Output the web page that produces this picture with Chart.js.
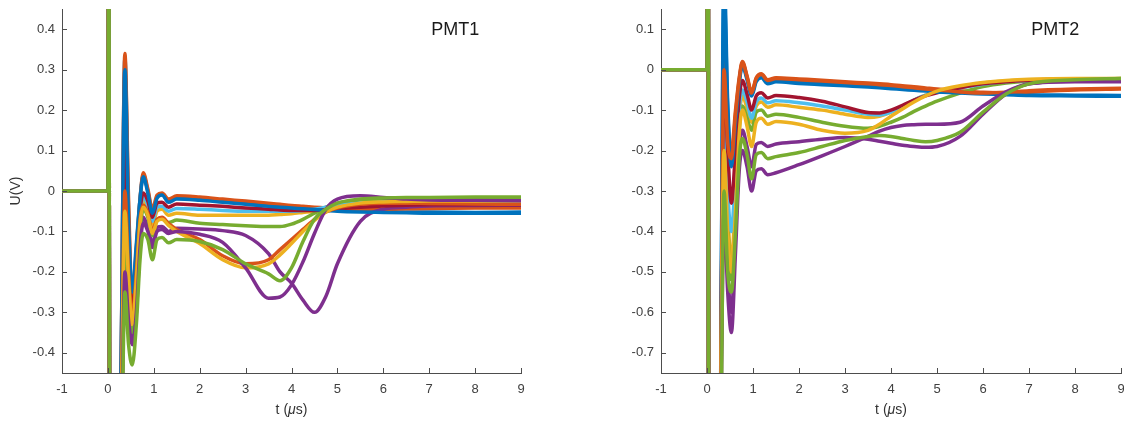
<!DOCTYPE html>
<html>
<head>
<meta charset="utf-8">
<script src="https://cdn.jsdelivr.net/npm/chart.js@4.4.0/dist/chart.umd.min.js"></script>
<style>
  html, body { margin: 0; padding: 0; background: #fff; overflow: hidden; }
  #wrap { position: relative; width: 1124px; height: 421px; overflow: hidden; }
  canvas { position: absolute; top: 0; }
</style>
</head>
<body>
<div id="wrap">
  <canvas id="pmt1" width="562" height="421" style="left:0px"></canvas>
  <canvas id="pmt2" width="572" height="421" style="left:562px"></canvas>
</div>
<script>
// time axis (microseconds), shared by every trace
const tempo = [-1, 0, 0.02, 0.04, 0.2, 0.28, 0.37, 0.45, 0.53, 0.62, 0.7, 0.77, 0.87, 0.97, 1.07, 1.18, 1.32, 1.5,
  2, 2.5, 3, 3.5, 3.75, 4, 4.25, 4.5, 4.75, 5, 5.5, 6, 6.5, 7, 8, 9];

const xTicks = [-1, 0, 1, 2, 3, 4, 5, 6, 7, 8, 9];
const yTicks1 = [-0.4, -0.3, -0.2, -0.1, 0, 0.1, 0.2, 0.3, 0.4];
const yTicks2 = [-0.7, -0.6, -0.5, -0.4, -0.3, -0.2, -0.1, 0, 0.1];

// MATLAB default colour order, 12 traces
const cores = ["#0072BD", "#D95319", "#EDB120", "#7E2F8E", "#77AC30", "#4DBEEE", "#A2142F",
  "#0072BD", "#D95319", "#EDB120", "#7E2F8E", "#77AC30"];

// PMT1 traces (V)
const p1Blue1 = [0, 0, 0.9, -0.9, -0.9, -0.5, 0.33, -0.05, -0.28, -0.15, -0.02, 0.04, 0.0, -0.05, -0.015, -0.008, -0.025, -0.017,
  -0.02, -0.025, -0.03, -0.035, -0.038, -0.04, -0.042, -0.044, -0.045, -0.047, -0.05, -0.05, -0.052, -0.052, -0.053, -0.052];
const p1Orange1 = [0, 0, 0.9, -0.9, -0.9, -0.5, 0.34, -0.02, -0.27, -0.14, -0.02, 0.045, 0.005, -0.045, -0.01, -0.005, -0.02, -0.012,
  -0.015, -0.02, -0.025, -0.03, -0.033, -0.036, -0.038, -0.04, -0.042, -0.044, -0.045, -0.045, -0.044, -0.043, -0.042, -0.042];
const p1Yellow1 = [0, 0, 0.9, -0.9, -0.9, -0.6, -0.02, -0.2, -0.3, -0.2, -0.07, -0.025, -0.045, -0.085, -0.05, -0.045, -0.06, -0.055,
  -0.06, -0.06, -0.06, -0.06, -0.058, -0.056, -0.053, -0.05, -0.045, -0.038, -0.032, -0.03, -0.028, -0.027, -0.026, -0.025];
const p1PurpleB = [0, 0, 0.9, -0.9, -0.9, -0.7, -0.15, -0.3, -0.36, -0.28, -0.13, -0.065, -0.09, -0.13, -0.09, -0.088, -0.1, -0.092,
  -0.094, -0.098, -0.11, -0.155, -0.2, -0.228, -0.27, -0.3, -0.26, -0.18, -0.075, -0.045, -0.04, -0.037, -0.036, -0.035];
const p1Green1 = [0, 0, 0.9, -0.9, -0.9, -0.7, -0.1, -0.25, -0.35, -0.25, -0.1, -0.045, -0.065, -0.11, -0.072, -0.068, -0.078, -0.072,
  -0.08, -0.083, -0.086, -0.088, -0.088, -0.082, -0.07, -0.055, -0.04, -0.03, -0.022, -0.02, -0.018, -0.018, -0.018, -0.017];
const p1LightBlue = [0, 0, 0.9, -0.9, -0.9, -0.6, 0.05, -0.18, -0.3, -0.18, -0.06, -0.015, -0.035, -0.075, -0.04, -0.038, -0.05, -0.043,
  -0.045, -0.048, -0.05, -0.05, -0.05, -0.05, -0.048, -0.045, -0.04, -0.035, -0.03, -0.028, -0.027, -0.026, -0.026, -0.026];
const p1Red = [0, 0, 0.9, -0.9, -0.9, -0.6, 0.13, -0.15, -0.3, -0.17, -0.05, -0.005, -0.025, -0.065, -0.03, -0.028, -0.04, -0.032,
  -0.035, -0.038, -0.042, -0.045, -0.047, -0.048, -0.048, -0.048, -0.046, -0.044, -0.04, -0.037, -0.035, -0.034, -0.034, -0.034];
const p1Blue2 = [0, 0, 0.9, -0.9, -0.9, -0.5, 0.3, -0.08, -0.25, -0.13, -0.02, 0.035, -0.005, -0.055, -0.018, -0.01, -0.028, -0.02,
  -0.023, -0.028, -0.033, -0.038, -0.04, -0.042, -0.044, -0.046, -0.048, -0.05, -0.052, -0.053, -0.054, -0.055, -0.055, -0.055];
const p1Orange2 = [0, 0, 0.9, -0.9, -0.9, -0.6, 0.0, -0.2, -0.31, -0.2, -0.07, -0.035, -0.055, -0.1, -0.07, -0.065, -0.08, -0.095,
  -0.12, -0.16, -0.18, -0.17, -0.145, -0.12, -0.095, -0.07, -0.052, -0.042, -0.033, -0.03, -0.03, -0.031, -0.032, -0.033];
const p1Yellow2 = [0, 0, 0.9, -0.9, -0.9, -0.65, -0.05, -0.22, -0.33, -0.22, -0.08, -0.04, -0.06, -0.105, -0.075, -0.07, -0.085, -0.1,
  -0.13, -0.17, -0.19, -0.18, -0.158, -0.13, -0.1, -0.073, -0.052, -0.04, -0.03, -0.027, -0.026, -0.025, -0.025, -0.025];
const p1PurpleA = [0, 0, 0.9, -0.9, -0.9, -0.75, -0.2, -0.32, -0.38, -0.3, -0.14, -0.08, -0.1, -0.14, -0.1, -0.095, -0.105, -0.1,
  -0.107, -0.127, -0.19, -0.265, -0.262, -0.232, -0.175, -0.105, -0.045, -0.02, -0.012, -0.016, -0.02, -0.022, -0.023, -0.024];
const p1Green2 = [0, 0, 0.9, -0.9, -0.9, -0.8, -0.25, -0.38, -0.43, -0.33, -0.17, -0.105, -0.12, -0.17, -0.12, -0.115, -0.128, -0.12,
  -0.125, -0.145, -0.18, -0.205, -0.222, -0.19, -0.125, -0.07, -0.045, -0.03, -0.02, -0.017, -0.016, -0.016, -0.015, -0.015];

// PMT2 traces (V)
const p2Blue1 = [0, 0, 1.5, -1.5, -1.5, -1.0, 0.25, -0.08, -0.22, -0.12, -0.03, 0.015, -0.02, -0.06, -0.025, -0.015, -0.03, -0.025,
  -0.03, -0.033, -0.037, -0.04, -0.042, -0.044, -0.046, -0.048, -0.05, -0.052, -0.055, -0.058, -0.06, -0.062, -0.063, -0.064];
const p2Orange1 = [0, 0, 1.5, -1.5, -1.5, -1.0, 0.05, -0.15, -0.2, -0.1, -0.02, 0.02, -0.015, -0.055, -0.02, -0.01, -0.025, -0.02,
  -0.023, -0.026, -0.03, -0.033, -0.035, -0.037, -0.04, -0.042, -0.045, -0.048, -0.052, -0.056, -0.058, -0.055, -0.05, -0.048];
const p2Yellow1 = [0, 0, 1.5, -1.5, -1.5, -1.0, -0.15, -0.35, -0.48, -0.3, -0.12, -0.065, -0.095, -0.13, -0.09, -0.08, -0.093, -0.087,
  -0.093, -0.1, -0.11, -0.118, -0.115, -0.105, -0.09, -0.075, -0.063, -0.055, -0.042, -0.033, -0.028, -0.025, -0.024, -0.024];
const p2PurpleB = [0, 0, 1.5, -1.5, -1.5, -1.0, -0.3, -0.5, -0.6, -0.4, -0.2, -0.15, -0.19, -0.24, -0.185, -0.18, -0.19, -0.184,
  -0.178, -0.172, -0.168, -0.172, -0.177, -0.182, -0.187, -0.19, -0.192, -0.19, -0.165, -0.11, -0.06, -0.035, -0.028, -0.027];
const p2Green1 = [0, 0, 1.5, -1.5, -1.5, -1.0, -0.18, -0.38, -0.52, -0.35, -0.15, -0.09, -0.12, -0.15, -0.105, -0.1, -0.115, -0.11,
  -0.118, -0.13, -0.14, -0.145, -0.14, -0.13, -0.118, -0.103, -0.09, -0.078, -0.058, -0.042, -0.033, -0.028, -0.024, -0.022];
const p2LightBlue = [0, 0, 1.5, -1.5, -1.5, -1.0, -0.08, -0.3, -0.4, -0.25, -0.1, -0.05, -0.08, -0.12, -0.08, -0.07, -0.082, -0.077,
  -0.082, -0.09, -0.1, -0.11, -0.112, -0.105, -0.09, -0.075, -0.063, -0.055, -0.045, -0.036, -0.03, -0.027, -0.025, -0.025];
const p2Red = [0, 0, 1.5, -1.5, -1.5, -1.0, -0.02, -0.2, -0.33, -0.2, -0.07, -0.027, -0.06, -0.1, -0.065, -0.057, -0.07, -0.064,
  -0.069, -0.078, -0.092, -0.106, -0.107, -0.1, -0.088, -0.075, -0.065, -0.057, -0.045, -0.035, -0.03, -0.026, -0.024, -0.025];
const p2Blue2 = [0, 0, 1.5, -1.5, -1.5, -1.0, 0.2, -0.1, -0.24, -0.13, -0.035, 0.01, -0.025, -0.065, -0.03, -0.02, -0.035, -0.03,
  -0.034, -0.037, -0.04, -0.043, -0.045, -0.047, -0.049, -0.051, -0.053, -0.055, -0.058, -0.06, -0.062, -0.064, -0.065, -0.066];
const p2Orange2 = [0, 0, 1.5, -1.5, -1.5, -1.0, 0.0, -0.18, -0.22, -0.11, -0.025, 0.018, -0.018, -0.058, -0.022, -0.012, -0.027, -0.022,
  -0.025, -0.028, -0.032, -0.035, -0.037, -0.039, -0.042, -0.045, -0.048, -0.05, -0.055, -0.058, -0.056, -0.052, -0.048, -0.046];
const p2Yellow2 = [0, 0, 1.5, -1.5, -1.5, -1.0, -0.2, -0.4, -0.5, -0.35, -0.16, -0.1, -0.14, -0.19, -0.13, -0.12, -0.135, -0.128,
  -0.135, -0.15, -0.157, -0.15, -0.135, -0.115, -0.097, -0.08, -0.065, -0.053, -0.04, -0.032, -0.027, -0.024, -0.022, -0.022];
const p2PurpleA = [0, 0, 1.5, -1.5, -1.5, -1.1, -0.35, -0.55, -0.65, -0.45, -0.25, -0.2, -0.24, -0.3, -0.25, -0.245, -0.26, -0.255,
  -0.235, -0.213, -0.19, -0.165, -0.152, -0.143, -0.138, -0.136, -0.135, -0.135, -0.13, -0.09, -0.055, -0.035, -0.03, -0.03];
const p2Green2 = [0, 0, 1.5, -1.5, -1.5, -1.2, -0.3, -0.5, -0.55, -0.4, -0.22, -0.17, -0.21, -0.27, -0.21, -0.205, -0.22, -0.215,
  -0.205, -0.19, -0.175, -0.165, -0.163, -0.165, -0.17, -0.175, -0.178, -0.175, -0.155, -0.105, -0.06, -0.035, -0.025, -0.022];

const series1 = [p1Blue1, p1Orange1, p1Yellow1, p1PurpleB, p1Green1, p1LightBlue, p1Red, p1Blue2, p1Orange2, p1Yellow2, p1PurpleA, p1Green2];
const series2 = [p2Blue1, p2Orange1, p2Yellow1, p2PurpleB, p2Green1, p2LightBlue, p2Red, p2Blue2, p2Orange2, p2Yellow2, p2PurpleA, p2Green2];

const fonte = '"Liberation Sans", Arial, Helvetica, sans-serif';
Chart.defaults.font.family = fonte;

// MATLAB style: ticks pointing inwards, titles as text
const matlabPlugin = {
  id: "matlab",
  afterDraw(chart, args, opts) {
    const ctx = chart.ctx;
    const a = chart.chartArea;
    const xs = chart.scales.x, ys = chart.scales.y;
    ctx.save();
    ctx.strokeStyle = "#4d4d4d";
    ctx.lineWidth = 1;
    ctx.beginPath();
    xs.ticks.forEach(t => {
      const px = Math.round(xs.getPixelForValue(t.value)) + 0.5;
      ctx.moveTo(px, a.bottom);
      ctx.lineTo(px, a.bottom - 5);
    });
    ys.ticks.forEach(t => {
      const py = Math.round(ys.getPixelForValue(t.value)) + 0.5;
      ctx.moveTo(a.left, py);
      ctx.lineTo(a.left + 5, py);
    });
    ctx.stroke();

    // panel title
    ctx.fillStyle = "#1a1a1a";
    ctx.font = "18px " + fonte;
    ctx.textAlign = "center";
    ctx.textBaseline = "middle";
    ctx.fillText(opts.titulo, xs.getPixelForValue(7.57), a.top + 21);

    // x label with italic mu
    ctx.fillStyle = "#333";
    const partes = [["t (", "14px "], ["\u03bc", "italic 14px "], ["s)", "14px "]];
    let total = 0;
    partes.forEach(p => { ctx.font = p[1] + fonte; total += ctx.measureText(p[0]).width; });
    let x = (a.left + a.right) / 2 - total / 2;
    ctx.textAlign = "left";
    partes.forEach(p => {
      ctx.font = p[1] + fonte;
      ctx.fillText(p[0], x, 410);
      x += ctx.measureText(p[0]).width;
    });

    if (opts.yLabel) {
      ctx.translate(16, (a.top + a.bottom) / 2);
      ctx.rotate(-Math.PI / 2);
      ctx.textAlign = "center";
      ctx.font = "14px " + fonte;
      ctx.fillText(opts.yLabel, 0, 0);
    }
    ctx.restore();
  }
};

function montarGrafico(id, titulo, series, yMin, yMax, yTicks, area, yLabel) {
  const canvas = document.getElementById(id);
  const datasets = series.map((s, i) => ({
    data: s.map((v, k) => ({ x: tempo[k], y: v })),
    borderColor: cores[i],
    borderWidth: 3.5,
    pointRadius: 0,
    cubicInterpolationMode: "monotone",
    borderJoinStyle: "round",
    clip: 0,
    order: series.length - i
  }));
  return new Chart(canvas, {
    type: "line",
    data: { datasets },
    plugins: [matlabPlugin],
    options: {
      responsive: false,
      animation: false,
      devicePixelRatio: 1,
      layout: { padding: { left: 0, top: area.top, right: canvas.width - area.right, bottom: 0 } },
      plugins: {
        legend: { display: false },
        tooltip: { enabled: false },
        matlab: { titulo: titulo, yLabel: yLabel }
      },
      scales: {
        x: {
          type: "linear",
          min: -1, max: 9,
          grid: { display: false, drawTicks: false },
          border: { display: true, color: "#4d4d4d", width: 1 },
          ticks: { color: "#404040", font: { size: 13 }, padding: 9, autoSkip: false, maxRotation: 0, includeBounds: false },
          afterBuildTicks: ax => { ax.ticks = xTicks.map(v => ({ value: v })); },
          afterFit: ax => {
            ax.height = canvas.height - area.bottom;
            ax.paddingLeft = 0; ax.paddingRight = 0;
          }
        },
        y: {
          type: "linear",
          min: yMin, max: yMax,
          grid: { display: false, drawTicks: false },
          border: { display: true, color: "#4d4d4d", width: 1 },
          ticks: {
            color: "#404040", font: { size: 13 }, padding: 7, autoSkip: false, includeBounds: false,
            callback: v => (Math.abs(v) < 1e-9 ? "0" : String(Number(v.toFixed(1))))
          },
          afterBuildTicks: ax => { ax.ticks = yTicks.map(v => ({ value: v })); },
          afterFit: ax => {
            ax.width = area.left;
            ax.paddingTop = 0; ax.paddingBottom = 0;
          }
        }
      }
    }
  });
}

montarGrafico("pmt1", "PMT1", series1, -0.45, 0.45, yTicks1, { left: 62, right: 521, top: 9, bottom: 373 }, "U(V)");
montarGrafico("pmt2", "PMT2", series2, -0.75, 0.15, yTicks2, { left: 99, right: 559, top: 9, bottom: 373 }, null);
</script>
</body>
</html>
